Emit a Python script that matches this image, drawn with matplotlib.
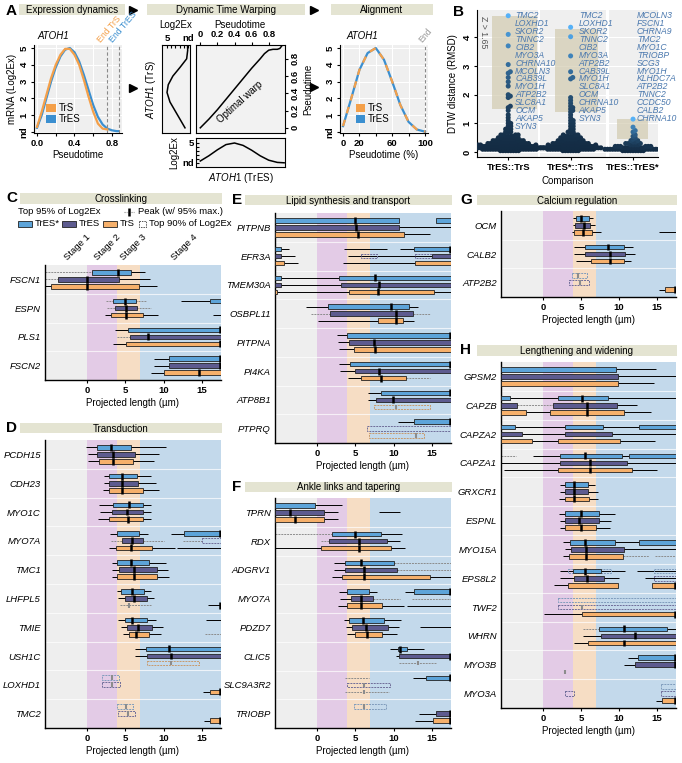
import numpy as np
import matplotlib.pyplot as plt
from matplotlib.patches import Rectangle, Patch

plt.rcParams['font.family'] = ['Liberation Sans', 'DejaVu Sans']
plt.rcParams['mathtext.fontset'] = 'custom'
plt.rcParams['mathtext.it'] = 'Liberation Sans:italic'
plt.rcParams['mathtext.rm'] = 'Liberation Sans'
plt.rcParams['axes.linewidth'] = 0.8

W, H = 682, 763

# ---------------- data: panel A ----------------
trs_pt = [0, 0.05, 0.1, 0.15, 0.2, 0.25, 0.3, 0.35, 0.4, 0.45, 0.5, 0.55, 0.6, 0.65, 0.7, 0.75]
trs_expr = [0.3, 1.2, 2.2, 3.2, 4.0, 4.6, 4.95, 4.95, 4.6, 4.0, 3.1, 2.1, 1.2, 0.5, 0.2, 0.15]
tres_pt = [0, 0.05, 0.1, 0.15, 0.2, 0.25, 0.3, 0.35, 0.4, 0.45, 0.5, 0.55, 0.6, 0.65, 0.7, 0.75, 0.8, 0.85, 0.87]
tres_expr = [0.25, 1.0, 2.0, 3.0, 3.85, 4.5, 4.9, 5.0, 4.75, 4.2, 3.4, 2.5, 1.6, 0.9, 0.45, 0.2, 0.1, 0.05, 0.05]
end_trs, end_tres = 0.75, 0.875

# dynamic time warping panels
dtw_trs_pt = [0, 0.1, 0.2, 0.3, 0.41, 0.5, 0.6, 0.7, 0.8, 0.9, 0.96]
dtw_trs_expr = [0.7, 1.9, 3.1, 4.3, 5.0, 4.7, 3.6, 1.9, 0.3, 0.05, 0.1]
dtw_tres_pt = [0, 0.1, 0.2, 0.3, 0.4, 0.5, 0.6, 0.7, 0.8, 0.9, 0.98]
dtw_tres_expr = [0.5, 1.8, 3.3, 4.6, 5.0, 4.4, 3.2, 1.8, 0.7, 0.15, 0.05]
warp_tres = [0, 0.1, 0.2, 0.3, 0.4, 0.5, 0.6, 0.7, 0.75, 0.8, 0.85, 0.9, 0.93, 0.96]
warp_trs = [0, 0.1, 0.21, 0.33, 0.45, 0.57, 0.69, 0.8, 0.86, 0.9, 0.91, 0.91, 0.92, 0.96]

# alignment
align_pct = [0, 10, 20, 30, 40, 50, 60, 70, 80, 90, 100]
align_expr = [0.35, 2.0, 3.7, 4.7, 5.0, 4.3, 3.0, 1.6, 0.6, 0.15, 0.02]

# ---------------- data: panel B ----------------
b_cats = ["TrES::TrS", "TrES*::TrS", "TrES::TrES*"]
b_levels = [0.05, 0.1, 0.15, 0.2, 0.25, 0.3, 0.35, 0.4, 0.45, 0.5, 0.55, 0.6, 0.7, 0.8, 0.9, 1.0, 1.1, 1.2, 1.3]
b_counts1 = [8, 14, 15, 13, 11, 9, 7, 6, 5, 4, 4, 4, 3, 3, 2, 2, 1, 1, 1]
b_counts2 = [7, 12, 13, 11, 9, 8, 6, 5, 5, 4, 4, 3, 3, 2, 2, 2, 2, 1, 1]
b_counts3 = [9, 14, 10, 6, 4, 3, 2, 2, 1, 1, 1, 1, 1, 0, 0, 0, 0, 0, 0]
b_high1 = [1.45, 1.55, 1.6, 1.9, 1.95, 2.0, 2.3, 2.45, 2.6, 2.75, 2.8, 3.05, 3.7, 4.1, 4.75]
b_high2 = [1.4, 1.45, 1.5, 1.55, 1.6, 1.7, 1.8, 1.9, 2.55, 2.6, 2.8, 3.35, 4.02, 4.35]
b_high3 = [0.75, 0.87, 1.15]
b_labels1 = ["TMC2", "LOXHD1", "SKOR2", "TNNC2", "CIB2", "MYO3A", "CHRNA10", "MCOLN3",
             "CAB39L", "MYO1H", "ATP2B2", "SLC8A1", "OCM", "AKAP5", "SYN3"]
b_labels2 = ["TMC2", "LOXHD1", "SKOR2", "TNNC2", "CIB2", "MYO3A", "ATP2B2", "CAB39L",
             "MYO1H", "SLC8A1", "OCM", "CHRNA10", "AKAP5", "SYN3"]
b_labels3 = ["MCOLN3", "FSCN1", "CHRNA9", "TMC2", "MYO1C", "TRIOBP", "SCG3", "MYO1H",
             "KLHDC7A", "ATP2B2", "TNNC2", "CCDC50", "CALB2", "CHRNA10"]
b_zbox = [(0.74, 1.46, 1.5, 4.75), (1.75, 2.44, 1.4, 4.3), (2.74, 3.24, 0.45, 1.15)]

# ---------------- data: panels C-H ----------------
# rows per gene: TrES*, TrES, TrS
# w = whisker, g = faint whisker, b = top 95% box, d = top 90% box, p = peak, q = faint peak
stages = [(-5.5, 0.0, '#EEEEEE'), (0.0, 3.95, '#E3CBE6'), (3.95, 6.95, '#F6DDC4'), (6.95, 17.5, '#C3D9EB')]
stage_names = ["Stage 1", "Stage 2", "Stage 3", "Stage 4"]

genes_c = ["FSCN1", "ESPN", "PLS1", "FSCN2"]
rows_c = {
    "FSCN1": [[('g', -5.5, 0.7), ('w', 0.7, 7.6), ('b', 0.7, 5.8), ('p', 4.0)],
              [('g', -5.5, -3.8), ('w', 4.2, 8.2), ('b', -3.8, 4.2), ('p', 0.05)],
              [('w', -5.5, 9.1), ('b', -4.7, 6.8), ('p', 0.0)]],
    "ESPN": [[('g', 2.5, 7.65), ('b', 3.35, 6.35), ('p', 4.9), ('w', 12.3, 16.1), ('b', 16.1, 17.5)],
             [('g', 2.6, 8.4), ('b', 3.7, 6.5), ('p', 5.05)],
             [('w', 2.3, 9.3), ('b', 3.1, 7.35), ('p', 5.05), ('w', 16.5, 17.5)]],
    "PLS1": [[('w', 3.65, 5.4), ('b', 5.4, 17.5), ('p', 17.4)],
             [('g', 3.9, 5.6), ('b', 5.6, 17.5), ('p', 8.0)],
             [('w', 3.4, 5.1), ('b', 5.1, 17.5), ('p', 17.4)]],
    "FSCN2": [[('w', 8.8, 10.7), ('b', 10.7, 17.5), ('p', 17.4)],
              [('w', 8.8, 10.7), ('b', 10.7, 17.5), ('p', 17.4)],
              [('w', 8.3, 10.0), ('b', 10.0, 17.5), ('p', 14.65)]],
}

genes_d = ["PCDH15", "CDH23", "MYO1C", "MYO7A", "TMC1", "LHFPL5", "TMIE", "USH1C", "LOXHD1", "TMC2"]
rows_d = {
    "PCDH15": [[('w', -0.1, 10.3), ('b', 1.35, 5.8), ('p', 3.1)],
               [('w', 0.1, 9.4), ('b', 1.35, 6.2), ('p', 3.4)],
               [('w', 0.1, 8.8), ('b', 1.6, 5.95), ('p', 3.4)]],
    "CDH23": [[('w', 2.2, 8.3), ('b', 2.9, 6.55), ('p', 4.5)],
              [('w', 2.2, 9.0), ('b', 2.9, 6.7), ('p', 4.6)],
              [('w', 2.1, 9.4), ('b', 2.8, 7.25), ('p', 4.5)]],
    "MYO1C": [[('w', 1.5, 8.3), ('b', 3.4, 7.35), ('p', 5.5)],
              [('w', 1.7, 8.3), ('b', 3.2, 7.25), ('p', 5.25)],
              [('w', 1.4, 8.4), ('b', 2.9, 7.35), ('p', 5.3)]],
    "MYO7A": [[('w', 3.0, 8.0), ('b', 3.95, 6.8), ('w', 11.0, 12.7), ('b', 12.7, 17.5), ('p', 17.4)],
              [('g', 3.1, 10.0), ('b', 4.5, 7.35), ('p', 5.85), ('g', 12.5, 15.0), ('d', 15.0, 17.5)],
              [('w', 2.8, 11.5), ('b', 3.8, 8.5), ('p', 5.8), ('w', 11.7, 17.5)]],
    "TMC1": [[('w', 3.3, 10.3), ('b', 3.95, 8.1), ('p', 5.75)],
             [('w', 3.3, 10.6), ('b', 4.2, 9.1), ('p', 6.1)],
             [('w', 3.3, 10.7), ('b', 3.95, 9.2), ('p', 6.1)]],
    "LHFPL5": [[('w', 3.95, 8.3), ('b', 4.4, 7.45), ('p', 5.9)],
               [('w', 4.1, 8.75), ('b', 4.95, 7.8), ('p', 6.1)],
               [('g', 4.3, 8.3), ('q', 5.5), ('w', 15.8, 17.5), ('p', 17.4)]],
    "TMIE": [[('w', 4.1, 9.0), ('b', 4.95, 7.8), ('p', 5.9), ('w', 15.6, 17.5)],
             [('w', 4.4, 9.9), ('b', 5.2, 8.5), ('p', 6.6)],
             [('w', 4.7, 9.65), ('b', 5.5, 8.1), ('p', 6.4), ('g', 15.4, 17.5)]],
    "USH1C": [[('w', 6.25, 7.7), ('b', 7.7, 17.5), ('p', 10.7)],
              [('w', 6.25, 7.85), ('b', 7.85, 17.5), ('p', 10.95)],
              [('d', 7.85, 14.65), ('q', 11.0)]],
    "LOXHD1": [[('d', 2.0, 4.2), ('q', 3.2)],
               [('d', 2.0, 4.3), ('q', 3.2)],
               [('w', 15.1, 16.05), ('b', 16.05, 17.5), ('p', 17.4)]],
    "TMC2": [[('d', 3.95, 6.0), ('q', 5.05)],
             [('d', 4.1, 6.25), ('q', 5.3)],
             [('w', 15.25, 16.05), ('b', 16.05, 17.5), ('p', 17.4)]],
}

genes_e = ["PITPNB", "EFR3A", "TMEM30A", "OSBPL11", "PITPNA", "PI4KA", "ATP8B1", "PTPRQ"]
rows_e = {
    "PITPNB": [[('b', -5.5, 10.75), ('p', 4.95), ('b', 15.55, 17.5)],
               [('w', 10.75, 17.5), ('b', -5.5, 10.75), ('p', 5.15)],
               [('w', 11.4, 14.8), ('b', -5.5, 11.4), ('p', 5.3)]],
    "EFR3A": [[('w', -4.77, -3.67), ('b', -5.5, -4.77), ('w', 3.5, 9.2), ('w', 10.8, 12.6), ('b', 12.6, 17.5), ('p', 17.4)],
              [('w', -4.77, -2.9), ('b', -5.5, -4.77), ('w', 4.1, 15.0), ('d', 5.7, 7.8), ('d', 12.8, 15.0), ('b', 15.0, 17.5)],
              [('w', -4.3, -2.5), ('b', -5.5, -4.3), ('w', 3.4, 12.8), ('b', 12.8, 17.5)]],
    "TMEM30A": [[('w', -4.7, 2.9), ('b', -5.5, -4.7), ('b', 2.9, 17.5), ('p', 7.55)],
                [('w', -4.7, 3.1), ('b', -5.5, -4.7), ('b', 3.1, 17.5), ('p', 8.1)],
                [('w', -5.2, 17.5), ('b', -5.5, -5.2), ('b', 4.15, 15.3), ('p', 8.0)]],
    "OSBPL11": [[('w', -1.4, 13.15), ('b', 1.45, 11.95), ('p', 9.6)],
                [('g', -0.75, 14.7), ('b', 1.75, 12.5), ('p', 10.3)],
                [('w', 0.1, 12.7), ('b', 8.0, 11.2), ('p', 10.3)]],
    "PITPNA": [[('w', 2.55, 3.95), ('b', 3.95, 17.5), ('p', 17.4)],
               [('w', 2.75, 4.15), ('b', 4.15, 17.5), ('p', 7.5)],
               [('w', 2.85, 4.85), ('b', 4.85, 17.5), ('p', 7.55)]],
    "PI4KA": [[('w', 2.85, 4.3), ('b', 4.3, 17.5), ('p', 17.4)],
              [('w', 3.05, 4.95), ('b', 4.95, 17.5), ('p', 8.1)],
              [('w', 4.0, 11.6), ('g', 11.6, 14.8), ('b', 5.8, 11.6), ('p', 8.35)]],
    "ATP8B1": [[('w', 6.6, 8.3), ('b', 8.3, 17.5), ('p', 17.4)],
               [('w', 6.6, 7.65), ('b', 7.65, 17.5), ('p', 9.9)],
               [('d', 7.45, 14.8), ('q', 10.3)]],
    "PTPRQ": [[('w', 10.6, 12.7), ('b', 12.7, 17.5), ('p', 17.4)],
              [('d', 6.5, 17.5)],
              [('d', 6.8, 14.0), ('q', 12.9)]],
}

genes_f = ["TPRN", "RDX", "ADGRV1", "MYO7A", "PDZD7", "CLIC5", "SLC9A3R2", "TRIOBP"]
rows_f = {
    "TPRN": [[('w', -0.3, 3.3), ('b', -5.5, -0.3)],
             [('w', 0.9, 2.75), ('b', -5.5, 0.9), ('p', -3.6), ('w', 8.1, 10.85)],
             [('w', 0.9, 2.75), ('b', -5.5, 0.9), ('p', -2.9)]],
    "RDX": [[('g', -5.5, 1.9), ('w', 8.3, 11.15), ('b', 1.9, 8.3), ('p', 5.0)],
            [('g', 0.45, 1.6), ('w', 9.1, 10.85), ('b', 1.6, 9.1), ('p', 5.45)],
            [('w', -5.5, 11.5), ('b', 0.45, 9.6), ('p', 5.5)]],
    "ADGRV1": [[('w', 2.2, 10.1), ('g', 10.1, 17.5), ('b', 3.6, 10.1), ('p', 5.8)],
               [('w', 2.2, 10.5), ('g', 10.5, 17.5), ('b', 3.6, 10.5), ('p', 6.15)],
               [('w', 2.0, 17.5), ('b', 3.3, 14.7), ('p', 6.15)]],
    "MYO7A": [[('w', 2.85, 7.8), ('b', 3.85, 6.8), ('w', 11.5, 12.7), ('b', 12.7, 17.5), ('p', 17.4)],
              [('w', 3.0, 7.35), ('g', 7.35, 10.85), ('b', 4.4, 7.35), ('p', 5.8), ('g', 12.4, 17.5)],
              [('w', 2.75, 11.3), ('b', 3.85, 8.5), ('p', 5.8), ('w', 11.7, 17.5)]],
    "PDZD7": [[('w', 3.55, 11.0), ('b', 4.15, 8.8), ('p', 6.05)],
              [('w', 3.75, 10.7), ('b', 4.5, 9.3), ('p', 6.4), ('w', 13.4, 17.5)],
              [('w', 3.85, 10.5), ('b', 5.0, 8.45), ('p', 6.5)]],
    "CLIC5": [[('w', 9.55, 14.0), ('b', 10.55, 11.7), ('p', 10.85)],
              [('w', 10.3, 10.75), ('b', 10.75, 17.5), ('p', 17.4)],
              [('g', 10.75, 15.5), ('q', 13.15)]],
    "SLC9A3R2": [[('g', 3.7, 6.8), ('w', 12.5, 14.25), ('b', 14.25, 17.5), ('p', 17.4)],
                 [('d', 3.95, 9.55), ('q', 6.15)],
                 [('g', 3.7, 9.45), ('q', 6.15)]],
    "TRIOBP": [[('d', 4.8, 9.0), ('q', 6.15)],
               [('w', 13.3, 15.55), ('b', 15.55, 17.5), ('p', 17.4)],
               [('w', 12.8, 15.1), ('b', 15.1, 17.5), ('p', 17.4)]],
}

genes_g = ["OCM", "CALB2", "ATP2B2"]
rows_g = {
    "OCM": [[('w', 3.9, 6.6), ('b', 4.3, 6.0), ('p', 5.0)],
            [('w', 3.9, 6.8), ('b', 4.2, 6.2), ('p', 5.4)],
            [('w', 3.8, 7.6), ('b', 4.15, 6.5), ('p', 5.3), ('w', 15.2, 17.5)]],
    "CALB2": [[('w', 4.15, 11.85), ('b', 5.6, 10.7), ('p', 8.5)],
              [('w', 4.15, 12.1), ('b', 5.6, 10.8), ('p', 8.8)],
              [('w', 4.35, 11.65), ('b', 6.3, 10.7), ('p', 8.8)]],
    "ATP2B2": [[('d', 3.8, 5.75), ('q', 4.6)],
               [('d', 3.5, 6.0), ('q', 4.9)],
               [('w', 15.2, 16.1), ('b', 16.1, 17.5), ('p', 17.4)]],
}

genes_h = ["GPSM2", "CAPZB", "CAPZA2", "CAPZA1", "GRXCR1", "ESPNL", "MYO15A", "EPS8L2",
           "TWF2", "WHRN", "MYO3B", "MYO3A"]
rows_h = {
    "GPSM2": [[('w', 9.55, 14.9), ('b', -5.5, 9.55)],
              [('w', 9.9, 17.5), ('b', -5.5, 9.9)],
              [('w', 9.9, 14.6), ('b', -5.5, 9.9)]],
    "CAPZB": [[('w', -4.35, 17.5), ('b', -5.5, -4.35), ('b', 1.95, 8.5), ('p', 5.1)],
              [('g', -3.4, 1.3), ('w', 9.8, 12.4), ('b', -5.5, -3.4), ('b', 1.3, 9.8), ('p', 5.75)],
              [('w', -2.2, 14.25), ('b', -5.5, -2.2), ('b', 0.9, 10.6), ('p', 5.75)]],
    "CAPZA2": [[('w', -3.6, 12.65), ('b', -5.5, -3.6), ('b', 2.85, 7.95), ('b', 12.65, 17.5)],
               [('w', -2.75, 17.5), ('b', -5.5, -2.75), ('b', 2.9, 9.15)],
               [('w', -1.45, 14.8), ('b', -5.5, -1.45), ('b', 1.95, 10.2)]],
    "CAPZA1": [[('g', -5.5, -3.5), ('w', -1.35, 11.3), ('b', 2.3, 10.35), ('p', 5.55), ('b', 11.3, 17.5)],
               [('w', -5.5, 17.5), ('b', 2.3, 11.1), ('p', 6.2)],
               [('w', -5.1, 15.05), ('b', 1.95, 11.7), ('p', 6.2)]],
    "GRXCR1": [[('w', 2.25, 6.85), ('b', 2.85, 5.9), ('p', 4.15)],
               [('w', 2.25, 7.2), ('b', 2.85, 5.9), ('p', 4.15)],
               [('w', 2.1, 7.3), ('b', 2.85, 6.0), ('p', 4.15)]],
    "ESPNL": [[('w', 2.1, 9.45), ('b', 2.85, 7.4), ('p', 5.0)],
              [('w', 2.25, 8.95), ('b', 2.85, 7.4), ('p', 4.75)],
              [('w', 2.2, 8.8), ('b', 2.9, 6.95), ('p', 5.0)]],
    "MYO15A": [[('w', 2.6, 12.65), ('b', 3.6, 9.45), ('p', 5.55), ('b', 12.65, 17.5)],
               [('w', 2.9, 17.5), ('b', 3.75, 10.65), ('p', 5.65)],
               [('w', 2.6, 10.55), ('g', 10.55, 13.95), ('g', 14.7, 17.5), ('b', 3.5, 10.55), ('p', 5.65)]],
    "EPS8L2": [[('w', 2.3, 10.75), ('d', 3.25, 9.0), ('b', 3.9, 7.6), ('p', 5.55), ('w', 12.4, 17.5), ('d', 14.6, 17.5)],
               [('w', 2.3, 10.0), ('b', 4.15, 8.05), ('p', 5.85), ('w', 13.4, 17.5), ('d', 14.6, 17.5)],
               [('w', 1.5, 3.25), ('b', 3.25, 9.9), ('b', 14.35, 17.5), ('p', 17.4)]],
    "TWF2": [[('d', 2.05, 17.5)],
             [('d', 1.95, 17.5), ('q', 5.2)],
             [('w', 0.1, 5.1), ('b', 5.1, 17.5), ('p', 17.4)]],
    "WHRN": [[('g', 5.25, 7.35), ('w', 16.3, 17.5), ('b', 7.35, 16.3), ('p', 10.65)],
             [('w', 5.25, 7.6), ('b', 7.6, 17.5), ('p', 12.1)],
             [('w', 4.15, 5.9), ('b', 5.9, 17.5), ('p', 10.65)]],
    "MYO3B": [[('w', 11.2, 12.5), ('b', 12.5, 17.5), ('p', 17.4)],
              [('w', 10.7, 12.1), ('b', 12.1, 17.5), ('p', 17.4)],
              [('q', 2.85)]],
    "MYO3A": [[('d', 15.55, 17.5)],
              [('d', 2.85, 4.15), ('d', 15.55, 17.5)],
              [('w', 14.9, 15.65), ('b', 15.65, 17.5), ('p', 17.4)]],
}

# ---------------- styles ----------------
c_trs, c_tres = '#F4A04A', '#3B8FD0'
grp_colors = ['#5DA4D9', '#5D5B8F', '#F6B06B']
dash_colors = ['#7F9CBC', '#6E6C98', '#C89A6C']
band = '#E4E4D2'
row_off = [-0.245, 0.0, 0.245]
bh = 0.16

fig = plt.figure(figsize=(W / 100, H / 100), dpi=100)
ov = fig.add_axes([0, 0, 1, 1])
ov.set_xlim(0, W)
ov.set_ylim(H, 0)
ov.axis('off')


def pax(x0, y0, x1, y1):
    return fig.add_axes([x0 / W, 1 - y1 / H, (x1 - x0) / W, (y1 - y0) / H])


def header(x0, x1, y0, y1, text):
    ov.add_patch(Rectangle((x0, y0), x1 - x0, y1 - y0, color=band, lw=0))
    ov.text((x0 + x1) / 2, (y0 + y1) / 2 + 0.5, text, ha='center', va='center', size=7)


def letter(x, y, s):
    ov.text(x, y, s, ha='left', va='center', size=11, weight='bold')


def bold_ticks(ax):
    for lab in ax.get_xticklabels() + ax.get_yticklabels():
        lab.set_fontweight('bold')
        lab.set_fontsize(6.8)


# ---------------- headers ----------------
header(19, 125, 4, 15, "Expression dynamics")
header(147, 305, 4, 15, "Dynamic Time Warping")
header(331, 433, 4, 15, "Alignment")
header(20, 222, 193, 204, "Crosslinking")
header(20, 222, 423, 433, "Transduction")
header(245, 452, 195, 205, "Lipid synthesis and transport")
header(245, 452, 482, 492, "Ankle links and tapering")
header(477, 677, 195, 205, "Calcium regulation")
header(477, 677, 345, 356, "Lengthening and widening")
for x, y, s in [(6, 11, 'A'), (453, 12, 'B'), (6, 198, 'C'), (6, 428, 'D'), (232, 200, 'E'),
                (232, 487, 'F'), (460, 200, 'G'), (460, 350, 'H')]:
    letter(x, y, s)
for x, y in [(133, 10), (314, 10), (133, 88), (314, 87)]:
    ov.plot(x, y, marker='>', ms=6, color='black', mec='black')

# ---------------- panel A: expression dynamics ----------------
ax = pax(34, 45, 122, 133)
ax.set_facecolor('#EFEFEF')
ax.set_xlim(-0.032, 0.907)
ax.set_ylim(-0.06, 5.18)
ax.set_xticks([0, 0.2, 0.4, 0.6, 0.8])
ax.set_xticklabels(['0.0', '', '0.4', '', '0.8'])
ax.set_yticks(range(6))
ax.set_yticklabels(['nd', '1', '2', '3', '4', '5'], rotation=90, va='center')
ax.grid(color='white', lw=0.8)
ax.set_axisbelow(True)
for s in ['top', 'right']:
    ax.spines[s].set_visible(False)
ax.tick_params(length=2.5, pad=1.5)
bold_ticks(ax)
ax.plot(trs_pt, trs_expr, color=c_trs, lw=1.6, zorder=3)
ax.plot(tres_pt, tres_expr, color=c_tres, lw=1.6, zorder=2)
for xe, col, lab in [(end_trs, c_trs, 'End TrS'), (end_tres, c_tres, 'End TrES')]:
    ax.axvline(xe, color='#8A8A8A', lw=0.8, ls=(0, (3, 2)))
    ax.text(xe - 0.05, 5.22, lab, color=col, rotation=50, ha='left', va='bottom',
            rotation_mode='anchor', size=6.3, clip_on=False)
ax.text(0.0, 5.4, 'ATOH1', style='italic', size=7, va='bottom')
ax.set_ylabel('mRNA (Log2Ex)', size=7, labelpad=2)
ax.set_xlabel('Pseudotime', size=7, labelpad=2)
ax.legend(handles=[Patch(fc=c_trs, label='TrS'), Patch(fc=c_tres, label='TrES')],
          loc='lower left', bbox_to_anchor=(0.06, 0.02), fontsize=7, frameon=False,
          handlelength=1.0, handleheight=1.0, handletextpad=0.3, labelspacing=0.1, borderpad=0.2)

# ---------------- panel A: DTW ----------------
axl = pax(162, 45, 190, 133)
axl.set_facecolor('#F2F2F2')
axl.set_xlim(6.2, -0.5)
axl.set_ylim(-0.06, 0.96)
axl.plot(dtw_trs_expr, dtw_trs_pt, color='black', lw=1.1)
axl.xaxis.tick_top()
axl.set_xticks(range(6))
axl.set_xticklabels(['nd', '', '', '', '', '5'])
axl.tick_params(axis='x', direction='in', length=2.5, pad=1.5)
axl.set_yticks([])
axl.set_ylabel(r'$\it{ATOH1}$ (TrS)', size=7, labelpad=3)
bold_ticks(axl)
ov.text(176, 25, 'Log2Ex', ha='center', va='center', size=7)

axw = pax(196, 45, 285, 133)
axw.set_facecolor('#F2F2F2')
axw.set_xlim(-0.05, 0.99)
axw.set_ylim(-0.06, 0.96)
axw.plot(warp_tres, warp_trs, color='black', lw=1.1)
axw.xaxis.tick_top()
axw.yaxis.tick_right()
axw.yaxis.set_label_position('right')
axw.set_xticks([0, 0.2, 0.4, 0.6, 0.8])
axw.set_xticklabels(['0', '0.2', '0.4', '0.6', '0.8'])
axw.set_yticks([0, 0.2, 0.4, 0.6, 0.8])
axw.set_yticklabels(['0', '0.2', '0.4', '0.6', '0.8'], rotation=90, va='center')
axw.tick_params(length=2.5, pad=1.5)
axw.set_ylabel('Pseudotime', size=7, labelpad=3)
bold_ticks(axw)
axw.text(0.46, 0.3, 'Optimal warp', rotation=42, ha='center', va='center', size=7,
         rotation_mode='anchor')
ov.text(240, 25, 'Pseudotime', ha='center', va='center', size=7)

axb = pax(196, 138, 285, 167)
axb.set_facecolor('#F2F2F2')
axb.set_xlim(-0.05, 0.99)
axb.set_ylim(-1.0, 6.25)
axb.plot(dtw_tres_pt, dtw_tres_expr, color='black', lw=1.1)
axb.set_xticks([])
axb.set_yticks(range(6))
axb.set_yticklabels(['nd', '', '', '', '', '5'])
axb.tick_params(axis='y', direction='in', length=2.5, pad=1.5)
axb.set_ylabel('Log2Ex', size=7, labelpad=2)
bold_ticks(axb)
axb.set_xlabel(r'$\it{ATOH1}$ (TrES)', size=7, labelpad=3)

# ---------------- panel A: alignment ----------------
axa = pax(340, 45, 428, 133)
axa.set_facecolor('#EFEFEF')
axa.set_xlim(-3.7, 103.7)
axa.set_ylim(-0.06, 5.18)
axa.set_xticks([0, 20, 40, 60, 80, 100])
axa.set_xticklabels(['0', '20', '', '60', '', '100'])
axa.set_yticks(range(6))
axa.set_yticklabels(['nd', '1', '2', '3', '4', '5'], rotation=90, va='center')
axa.grid(color='white', lw=0.8)
axa.set_axisbelow(True)
for s in ['top', 'right']:
    axa.spines[s].set_visible(False)
axa.tick_params(length=2.5, pad=1.5)
bold_ticks(axa)
axa.plot(align_pct, align_expr, color=c_tres, lw=1.6)
axa.plot(align_pct, align_expr, color=c_trs, lw=1.6, ls=(0, (3, 3)))
axa.axvline(100, color='#8A8A8A', lw=0.8, ls=(0, (3, 2)))
axa.text(98, 5.22, 'End', color='#999999', rotation=50, ha='left', va='bottom',
         rotation_mode='anchor', size=6.3, clip_on=False)
axa.text(4, 5.4, 'ATOH1', style='italic', size=7, va='bottom')
axa.set_xlabel('Pseudotime (%)', size=7, labelpad=2)
axa.legend(handles=[Patch(fc=c_trs, label='TrS'), Patch(fc=c_tres, label='TrES')],
           loc='lower left', bbox_to_anchor=(0.1, 0.02), fontsize=7, frameon=False,
           handlelength=1.0, handleheight=1.0, handletextpad=0.3, labelspacing=0.1, borderpad=0.2)

# ---------------- panel B ----------------
axB = pax(477, 10, 658, 157)
axB.set_xlim(0.5, 3.4)
axB.set_ylim(-0.17, 4.95)
for a, b in [(0.5, 1.47), (1.51, 2.57), (2.61, 3.4)]:
    axB.axvspan(a, b, color='#EFEFEF', lw=0, zorder=0)
for yv in range(5):
    axB.axhline(yv, color='white', lw=0.8, zorder=0.5)
for (x0, x1, y0, y1) in b_zbox:
    axB.add_patch(Rectangle((x0, y0), x1 - x0, y1 - y0, color='#D2CBB0', alpha=0.7, lw=0, zorder=1))
axB.text(0.6, 4.75, 'Z > 1.65', rotation=270, ha='center', va='top', size=6.3, color='#555555')

ppu_x, ppu_y, dmin = 62.5, 28.7, 2.6


def swarm(vals):
    placed = []
    for v in vals:
        y = v * ppu_y
        near = [(px, py) for px, py in placed if abs(y - py) < dmin]
        cands = [0.0]
        for px, py in near:
            dx = np.sqrt(dmin ** 2 - (y - py) ** 2)
            cands += [px + dx, px - dx]
        cands.sort(key=abs)
        for c in cands:
            if all((c - px) ** 2 + (y - py) ** 2 >= dmin ** 2 - 1e-6 for px, py in near):
                break
        placed.append((c, y))
    return np.array([p[0] for p in placed]) / ppu_x


c_lo = np.array([0x13, 0x2B, 0x43]) / 255
c_hi = np.array([0x56, 0xB1, 0xF7]) / 255
for k, (counts, high) in enumerate([(b_counts1, b_high1), (b_counts2, b_high2), (b_counts3, b_high3)]):
    vals = np.sort(np.concatenate([np.repeat(b_levels, counts), high]))
    offs = swarm(vals)
    frac = (vals / vals.max()) ** 1.6
    cols = c_lo[None, :] * (1 - frac[:, None]) + c_hi[None, :] * frac[:, None]
    axB.scatter(k + 1 + offs, vals, s=13, c=cols, lw=0, zorder=3)

for k, (labs, xl) in enumerate([(b_labels1, 1.11), (b_labels2, 2.13), (b_labels3, 3.06)]):
    for i, lab in enumerate(labs):
        axB.text(xl, 4.75 - i * 0.275, lab, style='italic', size=6.2, color='#4A78AE',
                 va='center', ha='left', clip_on=False, zorder=4)
axB.set_xticks([1, 2, 3])
axB.set_xticklabels(b_cats)
axB.set_yticks(range(5))
axB.set_yticklabels([str(i) for i in range(5)], rotation=90, va='center')
for s in ['top', 'right']:
    axB.spines[s].set_visible(False)
axB.tick_params(length=2.5, pad=1.5)
bold_ticks(axB)
axB.set_xlabel('Comparison', size=7, labelpad=3)
axB.set_ylabel('DTW distance (RMSD)', size=7, labelpad=3)


# ---------------- panels C-H ----------------
def bar_panel(rect, genes, rows):
    ax = pax(*rect)
    n = len(genes)
    ax.set_xlim(-5.5, 17.5)
    ax.set_ylim(n - 0.5, -0.5)
    for a, b, c in stages:
        ax.axvspan(a, b, color=c, lw=0, zorder=0)
    for i in range(1, n):
        ax.axhline(i - 0.5, color='white', lw=0.8, alpha=0.7, zorder=0.5)
    for i, g in enumerate(genes):
        for j, row in enumerate(rows[g]):
            y = i + row_off[j]
            for kind, *v in row:
                if kind == 'w':
                    ax.plot(v, [y, y], color='black', lw=0.7, zorder=2, solid_capstyle='butt')
                elif kind == 'g':
                    ax.plot(v, [y, y], color='#8C8C8C', lw=0.7, ls=(0, (2, 1)), zorder=2)
                elif kind == 'b':
                    ax.add_patch(Rectangle((v[0], y - bh / 2), v[1] - v[0], bh, fc=grp_colors[j],
                                           ec='#222222', lw=0.6, zorder=3))
                elif kind == 'd':
                    ax.add_patch(Rectangle((v[0], y - bh / 2), v[1] - v[0], bh, fc='none',
                                           ec=dash_colors[j], lw=0.7, ls=(0, (2, 1)), zorder=3))
                elif kind == 'p':
                    ax.plot([v[0], v[0]], [y - bh / 2 - 0.04, y + bh / 2 + 0.04], color='black',
                            lw=1.8, zorder=4, solid_capstyle='butt')
                elif kind == 'q':
                    ax.plot([v[0], v[0]], [y - bh / 2, y + bh / 2], color='#8C8C8C',
                            lw=1.5, zorder=4, solid_capstyle='butt')
    ax.set_yticks(range(n))
    ax.set_yticklabels(genes, style='italic', size=6.8)
    ax.tick_params(axis='y', length=0, pad=3)
    ax.set_xticks([0, 5, 10, 15])
    ax.tick_params(axis='x', length=2.5, pad=2)
    for lab in ax.get_xticklabels():
        lab.set_fontweight('bold')
        lab.set_fontsize(6.8)
    for s in ['top', 'right']:
        ax.spines[s].set_visible(False)
    ax.spines['left'].set_linewidth(1.0)
    ax.spines['bottom'].set_linewidth(1.0)
    ax.set_xlabel('Projected length (\u00b5m)', size=7, labelpad=2)
    return ax


axC = bar_panel((45, 265, 221, 380), genes_c, rows_c)
bar_panel((45, 440, 221, 728), genes_d, rows_d)
bar_panel((275, 213, 451, 443), genes_e, rows_e)
bar_panel((275, 498, 451, 728), genes_f, rows_f)
bar_panel((501, 211, 676, 297), genes_g, rows_g)
bar_panel((501, 362, 676, 708), genes_h, rows_h)

for xs, name in zip([-2.3, 1.6, 5.0, 11.6], stage_names):
    axC.text(xs, -0.62, name, rotation=45, ha='left', va='bottom', rotation_mode='anchor',
             size=6.8, clip_on=False)

# legend for panels C-H
ov.text(18, 212, 'Top 95% of Log2Ex', ha='left', va='center', size=6.8)
ov.plot([129, 129], [208, 216], color='black', lw=1.8, solid_capstyle='butt')
ov.plot([124, 127], [212, 212], color='#8C8C8C', lw=0.8, ls=(0, (1, 1)))
ov.plot([131, 134], [212, 212], color='#8C8C8C', lw=0.8, ls=(0, (1, 1)))
ov.text(138, 212, 'Peak (w/ 95% max.)', ha='left', va='center', size=6.8)
for x0, col, lab in [(18, grp_colors[0], 'TrES*'), (62, grp_colors[1], 'TrES'), (103, grp_colors[2], 'TrS')]:
    ov.add_patch(Rectangle((x0, 220.5), 14, 6.5, fc=col, ec='#222222', lw=0.6))
    ov.text(x0 + 17, 224, lab, ha='left', va='center', size=6.8)
ov.add_patch(Rectangle((139, 220.5), 7, 6.5, fc='none', ec='#555555', lw=0.7, ls=(0, (1.5, 1))))
ov.text(149, 224, 'Top 90% of Log2Ex', ha='left', va='center', size=6.8)

fig.savefig('out.png', dpi=100)
